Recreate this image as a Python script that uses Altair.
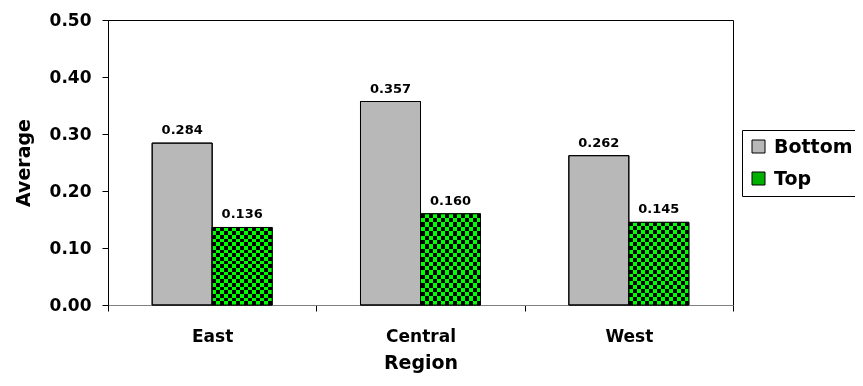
import altair as alt
import pandas as pd

regions = ["East", "Central", "West"]
series = ["Bottom", "Top"]
bottom_vals = [0.284, 0.357, 0.262]
top_vals = [0.136, 0.160, 0.145]

rows = []
for i, r in enumerate(regions):
    rows.append({"Region": r, "Series": "Bottom", "Average": bottom_vals[i]})
    rows.append({"Region": r, "Series": "Top", "Average": top_vals[i]})
df = pd.DataFrame(rows)

FONT = "DejaVu Sans"
GREEN = "#00ff00"


def stripes(n, c1, c2, horizontal=True):
    stops = []
    for k in range(n):
        c = c1 if k % 2 == 0 else c2
        stops.append({"offset": k / n, "color": c})
        stops.append({"offset": (k + 1) / n, "color": c})
    g = {"gradient": "linear", "stops": stops}
    if horizontal:
        g.update({"x1": 0, "y1": 0, "x2": 1, "y2": 0})
    else:
        g.update({"x1": 0, "y1": 0, "x2": 0, "y2": 1})
    return g


x_enc = alt.X(
    "Region:N",
    sort=regions,
    scale=alt.Scale(paddingInner=0, paddingOuter=0),
    axis=alt.Axis(
        title="Region",
        labelAngle=0,
        tickBand="extent",
        tickSize=6,
        labelPadding=17,
        labelFontSize=17,
        labelFont=FONT,
        labelFontWeight="bold",
        labelColor="black",
        titleFontSize=19,
        titleFont=FONT,
        titleFontWeight="bold",
        titleColor="black",
        titlePadding=9,
        domainColor="#808080",
        tickColor="black",
    ),
)
xo_enc = alt.XOffset(
    "Series:N",
    sort=series,
    scale=alt.Scale(domain=series, paddingInner=0, paddingOuter=0.736),
)
y_enc = alt.Y(
    "Average:Q",
    scale=alt.Scale(domain=[0, 0.5], nice=False),
    axis=alt.Axis(
        title="Average",
        values=[0, 0.1, 0.2, 0.3, 0.4, 0.5],
        format=".2f",
        grid=False,
        tickSize=6,
        labelPadding=11,
        labelFontSize=17,
        labelFont=FONT,
        labelFontWeight="bold",
        labelColor="black",
        titleFontSize=19,
        titleFont=FONT,
        titleFontWeight="bold",
        titleColor="black",
        titlePadding=16,
        domainColor="black",
        tickColor="black",
    ),
)

base = alt.Chart(df).encode(x=x_enc, xOffset=xo_enc, y=y_enc)

bars = base.mark_bar(stroke="black", strokeWidth=1).encode(
    color=alt.Color(
        "Series:N",
        sort=series,
        scale=alt.Scale(domain=series, range=["#b8b8b8", "#00b000"]),
        legend=alt.Legend(
            title=None,
            orient="none",
            legendX=634,
            legendY=110,
            symbolType="square",
            symbolSize=169,
            symbolStrokeColor="black",
            symbolStrokeWidth=1,
            labelFontSize=19,
            labelFont=FONT,
            labelFontWeight="bold",
            labelColor="black",
            labelOffset=6,
            strokeColor="black",
            padding=7,
            rowPadding=12,
        ),
    )
)

top_v = (
    base.transform_filter(alt.datum.Series == "Top")
    .mark_bar(color=stripes(15, GREEN, "black", True), strokeWidth=0)
)
top_h = (
    base.transform_filter(alt.datum.Series == "Top")
    .mark_bar(
        color=stripes(21, GREEN, "rgba(0,0,0,0)", False),
        strokeWidth=0,
        blend="difference",
    )
)
outline = base.mark_bar(fillOpacity=0, stroke="black", strokeWidth=1)

labels = base.mark_text(
    baseline="alphabetic",
    dy=-9,
    fontSize=13,
    font=FONT,
    fontWeight="bold",
    color="black",
).encode(text=alt.Text("Average:Q", format=".3f"))

chart = (
    alt.layer(bars, top_v, top_h, outline, labels)
    .properties(
        width=625,
        height=285,
        background="white",
        autosize=alt.AutoSizeParams(type="none"),
        padding={"left": 100, "top": 12, "right": 122, "bottom": 73},
    )
    .configure_view(stroke="black", strokeWidth=1)
)

chart.save("out.html", embed_options={"renderer": "svg", "actions": False})
